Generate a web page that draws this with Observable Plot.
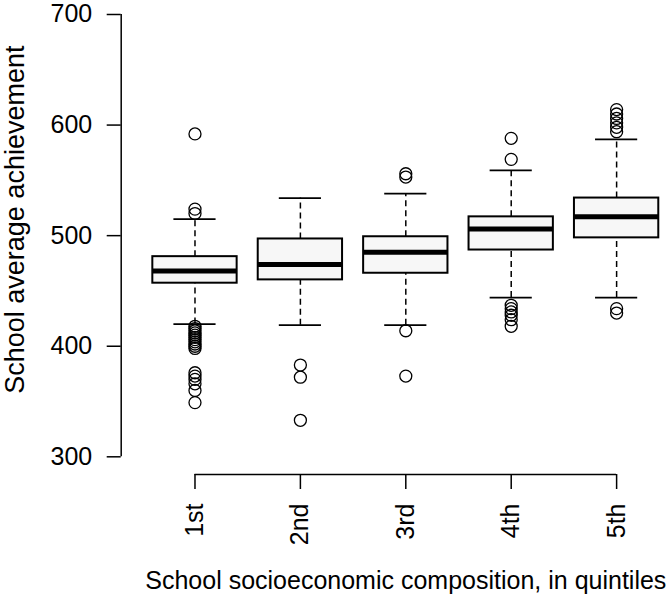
<!DOCTYPE html>
<html>
<head>
<meta charset="utf-8">
<script src="https://cdn.jsdelivr.net/npm/d3@7"></script>
<script src="https://cdn.jsdelivr.net/npm/@observablehq/plot@0.6"></script>
<style>
  html, body { margin: 0; padding: 0; background: #fff; }
  #chart { width: 669px; height: 596px; overflow: hidden; }
</style>
</head>
<body>
<div id="chart"></div>
<script>
// ---- data ----
const quintiles   = ["1st", "2nd", "3rd", "4th", "5th"];
const whiskerLow  = [420, 419, 419, 444, 444];
const boxLow      = [457, 460, 466, 487, 498];
const medians     = [468, 474, 485, 506, 517];
const boxHigh     = [481, 497, 499, 517, 534];
const whiskerHigh = [515, 534, 538, 559, 587];
const outliers1 = [592, 524, 520, 418, 416, 414, 412, 410, 408, 406, 404, 402, 400, 398, 376, 373, 370, 366, 360, 349];
const outliers2 = [383, 372, 333];
const outliers3 = [556, 553, 414, 373];
const outliers4 = [588, 569, 437, 434, 431, 428, 424, 418];
const outliers5 = [614, 610, 606, 602, 598, 594, 434, 430];
const yTicks = [300, 400, 500, 600, 700];
const yTitle = "School average achievement";
const xTitle = "School socioeconomic composition, in quintiles";

// ---- tables built from the arrays ----
const boxes = quintiles.map((q, i) => ({
  pos: i + 1, q,
  wlo: whiskerLow[i], q1: boxLow[i], med: medians[i], q3: boxHigh[i], whi: whiskerHigh[i]
}));
const outlierLists = [outliers1, outliers2, outliers3, outliers4, outliers5];
const outliers = outlierLists.flatMap((arr, i) => arr.map(v => ({pos: i + 1, v})));

// R-like scale extents: categories at 1..n, limits extended 4%
const n = quintiles.length;
const xLim = [0.5, n + 0.5];
const xPad = (xLim[1] - xLim[0]) * 0.04;
const xDomain = [xLim[0] - xPad, xLim[1] + xPad];
const yLim = [yTicks[0], yTicks[yTicks.length - 1]];
const yPad = (yLim[1] - yLim[0]) * 0.04;
const yDomain = [yLim[0] - yPad, yLim[1] + yPad];
const halfBox = 0.4, halfCap = 0.2;

const font = "'Liberation Sans', Arial, Helvetica, sans-serif";
const fs = 25;

const chart = Plot.plot({
  width: 669,
  height: 596,
  marginLeft: 120.7,
  marginRight: -20.9,
  marginTop: -3.7,
  marginBottom: 122,
  style: {fontFamily: font, fontSize: fs + "px", color: "#000", background: "#fff"},
  x: {type: "linear", domain: xDomain, axis: null},
  y: {type: "linear", domain: yDomain, axis: null},
  marks: [
    // whiskers (dashed)
    Plot.ruleX(boxes, {x: "pos", y1: "q3", y2: "whi", stroke: "#000", strokeWidth: 1.5, strokeDasharray: "6,4"}),
    Plot.ruleX(boxes, {x: "pos", y1: "wlo", y2: "q1", stroke: "#000", strokeWidth: 1.5, strokeDasharray: "6,4"}),
    // staples
    Plot.ruleY(boxes, {y: "whi", x1: d => d.pos - halfCap, x2: d => d.pos + halfCap, stroke: "#000", strokeWidth: 1.7}),
    Plot.ruleY(boxes, {y: "wlo", x1: d => d.pos - halfCap, x2: d => d.pos + halfCap, stroke: "#000", strokeWidth: 1.7}),
    // boxes
    Plot.rect(boxes, {x1: d => d.pos - halfBox, x2: d => d.pos + halfBox, y1: "q1", y2: "q3",
      fill: "#f7f7f7", stroke: "#000", strokeWidth: 2}),
    // medians
    Plot.ruleY(boxes, {y: "med", x1: d => d.pos - halfBox, x2: d => d.pos + halfBox, stroke: "#000", strokeWidth: 5}),
    // outliers
    Plot.dot(outliers, {x: "pos", y: "v", r: 6, stroke: "#000", strokeWidth: 1.3, fill: "none"}),
    // axis lines (R style: from first to last tick)
    Plot.ruleX([xDomain[0]], {x: d => d, y1: yLim[0], y2: yLim[1], stroke: "#000", strokeWidth: 1.5}),
    Plot.ruleY([yDomain[0]], {y: d => d, x1: 1, x2: n, stroke: "#000", strokeWidth: 1.5}),
    Plot.axisY({anchor: "left", ticks: yTicks, tickSize: 14, tickPadding: 15, tickFormat: d => String(d),
      stroke: "#000", strokeWidth: 1.5, fill: "#000", fontSize: fs, label: null}),
    Plot.axisX({anchor: "bottom", ticks: quintiles.map((q, i) => i + 1), tickFormat: d => quintiles[d - 1],
      tickSize: 15, tickPadding: 14, tickRotate: -90, stroke: "#000", strokeWidth: 1.5, fill: "#000",
      fontSize: fs, label: null}),
    // titles
    Plot.text([yTitle], {frameAnchor: "left", text: d => d, rotate: -90, dx: -106, dy: -16,
      fontSize: 27, fill: "#000", lineAnchor: "middle", textAnchor: "middle"}),
    Plot.text([xTitle], {frameAnchor: "bottom", text: d => d, dy: 114,
      fontSize: fs, fill: "#000", lineAnchor: "bottom", textAnchor: "middle"})
  ]
});
document.getElementById("chart").appendChild(chart);
</script>
</body>
</html>
